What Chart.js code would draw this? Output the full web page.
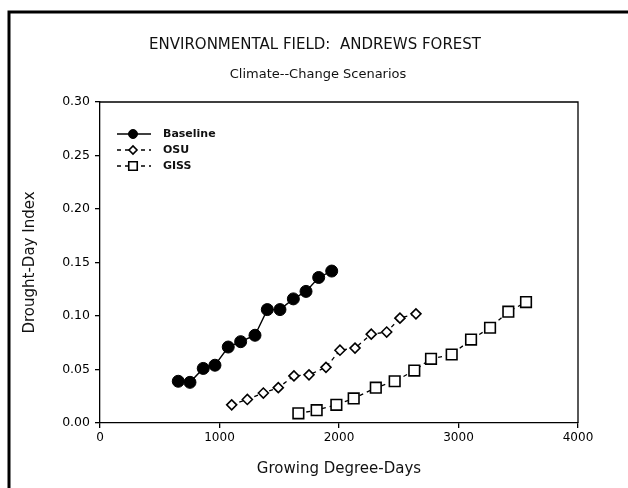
<!DOCTYPE html>
<html><head><meta charset="utf-8">
<script src="https://cdn.jsdelivr.net/npm/chart.js@4/dist/chart.umd.min.js"></script>
<style>html,body{margin:0;padding:0;background:#fff;}#wrap{width:628px;height:488px;position:relative;}</style>
</head><body><div id="wrap"><canvas id="c" width="628" height="488"></canvas></div>
<script>
const titleText = "ENVIRONMENTAL FIELD:  ANDREWS FOREST";
const subtitleText = "Climate--Change Scenarios";
const xAxisTitle = "Growing Degree-Days";
const yAxisTitle = "Drought-Day Index";
const seriesNames = ["Baseline", "OSU", "GISS"];

const baselineX = [655, 753, 864, 962, 1073, 1177, 1297, 1400, 1506, 1618, 1724, 1830, 1939];
const baselineY = [0.039, 0.038, 0.051, 0.054, 0.071, 0.076, 0.082, 0.106, 0.106, 0.116, 0.123, 0.136, 0.142];
const osuX = [1102, 1233, 1367, 1492, 1623, 1749, 1891, 2008, 2134, 2270, 2399, 2510, 2644];
const osuY = [0.017, 0.022, 0.028, 0.033, 0.044, 0.045, 0.052, 0.068, 0.070, 0.083, 0.085, 0.098, 0.102];
const gissX = [1660, 1813, 1978, 2123, 2308, 2466, 2630, 2770, 2943, 3105, 3264, 3417, 3565];
const gissY = [0.009, 0.012, 0.017, 0.023, 0.033, 0.039, 0.049, 0.060, 0.064, 0.078, 0.089, 0.104, 0.113];

const xTicks = [0, 1000, 2000, 3000, 4000];
const yTicks = [0.00, 0.05, 0.10, 0.15, 0.20, 0.25, 0.30];

const toPts = (xs, ys) => xs.map((x, i) => ({x: x, y: ys[i]}));
const FONT = "DejaVu Sans";

const decor = {
  id: 'decor',
  afterDraw(chart) {
    const ctx = chart.ctx, a = chart.chartArea;
    ctx.save();
    // outer frame (left and top)
    ctx.strokeStyle = '#000'; ctx.lineWidth = 3;
    ctx.beginPath(); ctx.moveTo(9, 488); ctx.lineTo(9, 12); ctx.lineTo(628, 12); ctx.stroke();
    // plot box top & right
    ctx.lineWidth = 1.3;
    ctx.beginPath(); ctx.moveTo(a.left, a.top); ctx.lineTo(a.right, a.top); ctx.lineTo(a.right, a.bottom); ctx.stroke();
    // titles
    ctx.fillStyle = '#111'; ctx.textAlign = 'center'; ctx.textBaseline = 'middle';
    ctx.font = '15px "' + FONT + '"';
    ctx.fillText(titleText, 315, 45);
    ctx.font = '13px "' + FONT + '"';
    ctx.fillText(subtitleText, 318, 75);
    // legend
    const rows = [134, 150, 166];
    const lr = [4.5, 4, 6];
    chart.data.datasets.forEach((ds, i) => {
      const y = rows[i];
      ctx.strokeStyle = '#000'; ctx.lineWidth = 1.3;
      ctx.setLineDash(ds.borderDash || []);
      ctx.beginPath(); ctx.moveTo(117, y); ctx.lineTo(151, y); ctx.stroke();
      ctx.setLineDash([]);
      ctx.fillStyle = ds.pointBackgroundColor; ctx.strokeStyle = '#000';
      ctx.lineWidth = ds.pointBorderWidth;
      Chart.helpers.drawPoint(ctx, {pointStyle: ds.pointStyle, radius: lr[i], borderWidth: ds.pointBorderWidth}, 133, y);
      ctx.fillStyle = '#111'; ctx.textAlign = 'left';
      ctx.font = 'bold 11px "' + FONT + '"';
      ctx.fillText(ds.label, 163, y);
    });
    ctx.restore();
  }
};

new Chart(document.getElementById('c'), {
  type: 'scatter',
  data: {
    datasets: [
      {label: seriesNames[0], data: toPts(baselineX, baselineY), showLine: true, borderColor: '#000', borderWidth: 1.4,
       pointStyle: 'circle', pointRadius: 6, pointBackgroundColor: '#000', pointBorderColor: '#000', pointBorderWidth: 1},
      {label: seriesNames[1], data: toPts(osuX, osuY), showLine: true, borderColor: '#000', borderWidth: 1.3, borderDash: [4, 4],
       pointStyle: 'rectRot', pointRadius: 5, pointBackgroundColor: '#fff', pointBorderColor: '#000', pointBorderWidth: 1.6},
      {label: seriesNames[2], data: toPts(gissX, gissY), showLine: true, borderColor: '#000', borderWidth: 1.3, borderDash: [4, 4],
       pointStyle: 'rect', pointRadius: 7.5, pointBackgroundColor: '#fff', pointBorderColor: '#000', pointBorderWidth: 1.6}
    ]
  },
  options: {
    responsive: false, animation: false,
    layout: {padding: {top: 102, right: 50, bottom: 0, left: 0}},
    plugins: {legend: {display: false}, tooltip: {enabled: false}, title: {display: false}},
    scales: {
      x: {
        type: 'linear', min: 0, max: 4000,
        afterFit: s => { s.height = 65; },
        afterBuildTicks: s => { s.ticks = xTicks.map(v => ({value: v})); },
        grid: {drawOnChartArea: false, drawTicks: true, tickLength: 5, color: '#000', lineWidth: 1.3},
        border: {display: true, color: '#000', width: 1.3},
        ticks: {color: '#000', padding: 3, font: {family: FONT, size: 12}, callback: v => String(v)},
        title: {display: true, text: xAxisTitle, color: '#111', font: {family: FONT, size: 15}, padding: {top: 4, bottom: 10}}
      },
      y: {
        type: 'linear', min: 0, max: 0.30,
        afterFit: s => { s.width = 100; },
        afterBuildTicks: s => { s.ticks = yTicks.map(v => ({value: v})); },
        grid: {drawOnChartArea: false, drawTicks: true, tickLength: 5, color: '#000', lineWidth: 1.3},
        border: {display: true, color: '#000', width: 1.3},
        ticks: {color: '#000', padding: 5, font: {family: FONT, size: 12.5}, callback: v => Number(v).toFixed(2)},
        title: {display: true, text: yAxisTitle, color: '#111', font: {family: FONT, size: 15}, padding: {top: 21, bottom: 0}}
      }
    }
  },
  plugins: [decor]
});
</script></body></html>
